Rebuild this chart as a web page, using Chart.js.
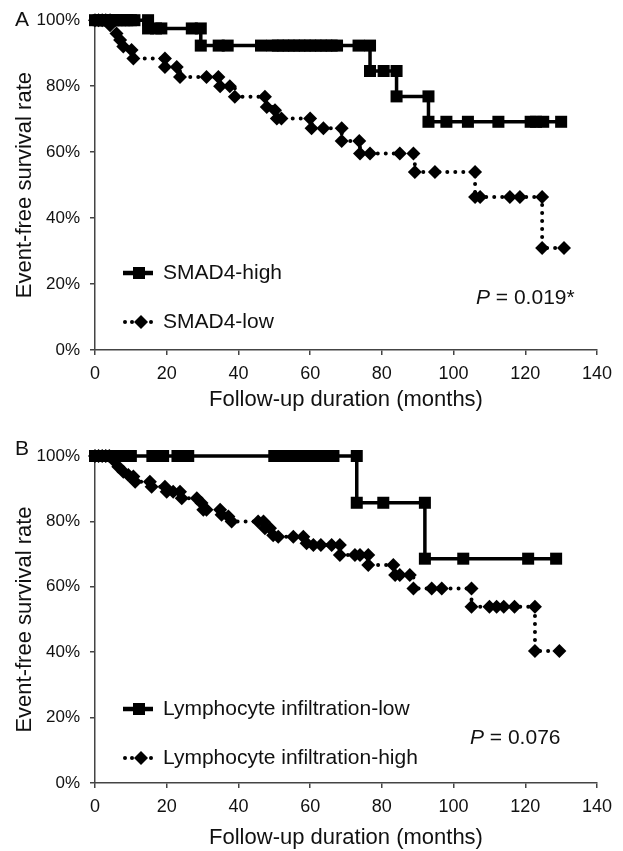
<!DOCTYPE html>
<html>
<head>
<meta charset="utf-8">
<script src="https://cdn.jsdelivr.net/npm/chart.js@4.4.1/dist/chart.umd.min.js"></script>
<style>
  html, body { margin: 0; padding: 0; background: #fff; }
  #wrap { position: relative; width: 623px; height: 851px; }
  canvas { position: absolute; left: 0; }
  #chartA { top: 0; }
  #chartB { top: 425px; }
</style>
</head>
<body>
<div id="wrap">
  <canvas id="chartA" width="623" height="425"></canvas>
  <canvas id="chartB" width="623" height="426"></canvas>
</div>
<script>
// axis ticks
const xTicks = [0, 20, 40, 60, 80, 100, 120, 140];
const yTicks = [0, 20, 40, 60, 80, 100];

// panel A - SMAD4
const smadHighX = [0, 1, 2, 3, 4, 5, 6, 7, 8, 9, 10, 11, 14.8, 14.8, 17, 18.5, 27, 29.5, 29.5, 34.5, 37, 46.3,
  49.5, 51, 52.5, 54, 55.5, 57, 58.5, 60, 61.5, 63, 64.5, 66, 67.5, 73.5, 76.7, 76.7, 80.5, 84.1, 84.1,
  93, 93, 98, 104, 112.5, 121.5, 123, 125, 130];
const smadHighY = [100, 100, 100, 100, 100, 100, 100, 100, 100, 100, 100, 100, 100, 97.5, 97.5, 97.5, 97.5, 97.5, 92.3, 92.3, 92.3, 92.3,
  92.3, 92.3, 92.3, 92.3, 92.3, 92.3, 92.3, 92.3, 92.3, 92.3, 92.3, 92.3, 92.3, 92.3, 92.3, 84.6, 84.6, 84.6, 76.9,
  76.9, 69.2, 69.2, 69.2, 69.2, 69.2, 69.2, 69.2, 69.2];

const smadLowX = [0, 1, 2, 3, 4.2, 4.2, 6, 7, 7.9, 10.2, 10.7, 19.5, 19.5, 22.8, 23.7, 31.1, 34.4, 34.9, 37.6, 39,
  47.4, 47.9, 50.2, 50.7, 52, 60, 60.4, 63.7, 68.8, 68.8, 73.7, 73.9, 76.7, 85, 88.8, 89.2, 94.8, 106, 106,
  107.4, 115.7, 118.5, 124.7, 124.7, 130.8];
const smadLowY = [100, 100, 100, 100, 100, 98.5, 96, 94, 92, 91, 88.4, 88.4, 85.8, 85.8, 82.8, 82.8, 82.8, 80, 80, 76.8,
  76.8, 73.7, 72.7, 70.2, 70.2, 70.2, 67.2, 67.2, 67.2, 63.4, 63.4, 59.6, 59.6, 59.6, 59.6, 54, 54, 54, 46.4,
  46.4, 46.4, 46.4, 46.4, 30.9, 30.9];

// panel B - lymphocyte infiltration
const lymLowX = [0, 1, 2, 3, 4, 5, 6, 7, 8, 9, 10, 16, 19, 23, 26, 50, 51.5, 53, 54.5, 56, 57.5, 59, 60.5, 62, 63.5,
  65, 66.5, 73, 73, 80.4, 92, 92, 102.7, 120.8, 128.6];
const lymLowY = [100, 100, 100, 100, 100, 100, 100, 100, 100, 100, 100, 100, 100, 100, 100, 100, 100, 100, 100, 100, 100, 100, 100, 100, 100,
  100, 100, 100, 85.7, 85.7, 85.7, 68.6, 68.6, 68.6, 68.6];

const lymHighX = [0, 1, 2, 3, 4, 5.1, 6.5, 7.9, 9.3, 10.7, 11.2, 15.3, 15.8, 19.5, 20, 21.8, 23.7, 24.2, 28.4, 29.7,
  30.2, 31.1, 34.9, 35.3, 37.2, 38.1, 45.5, 47, 47.4, 48.8, 49.7, 51.1, 55.3, 58.1, 59, 60.9, 63, 66, 68.3, 68.3,
  72.5, 73.9, 76.2, 76.2, 83.2, 83.7, 85, 87.8, 88.8, 93.9, 96.7, 105, 105, 110, 112, 114, 117, 122.7, 122.7, 129.5];
const lymHighY = [100, 100, 100, 100, 100, 98.8, 96.7, 95.2, 94.2, 93.7, 92.1, 92.1, 90.6, 90.6, 89.1, 89.1, 89.1, 87.1, 87.1, 85.6,
  83.6, 83.6, 83.6, 82, 81.5, 80, 80, 80, 77.9, 77.9, 75.8, 75.3, 75.3, 75.3, 73.3, 72.8, 72.8, 72.8, 72.8, 69.7,
  69.7, 69.7, 69.7, 66.7, 66.7, 63.6, 63.6, 63.6, 59.5, 59.5, 59.5, 59.5, 53.9, 53.9, 53.9, 53.9, 53.9, 53.9, 40.4, 40.4];

const FONT = '"Liberation Sans", Arial, sans-serif';
Chart.defaults.font.family = FONT;
Chart.defaults.color = "#111";

function toPoints(xs, ys) {
  return xs.map((x, i) => ({ x: x, y: ys[i] }));
}

function solidSet(label, xs, ys) {
  return {
    label: label,
    data: toPoints(xs, ys),
    showLine: true,
    stepped: true,
    borderColor: "#000",
    borderWidth: 3.5,
    pointStyle: "rect",
    pointRadius: 8.5,
    pointBackgroundColor: "#000",
    pointBorderWidth: 0,
    clip: false,
  };
}

function dottedSet(label, xs, ys) {
  return {
    label: label,
    data: toPoints(xs, ys),
    showLine: true,
    stepped: true,
    borderColor: "#000",
    borderWidth: 4,
    borderDash: [0, 8],
    borderCapStyle: "round",
    pointStyle: "rectRot",
    pointRadius: 7,
    pointBackgroundColor: "#000",
    pointBorderWidth: 0,
    clip: false,
  };
}

// letters, legend and p value
const annotPlugin = {
  id: "annot",
  afterDraw(chart, args, opts) {
    const ctx = chart.ctx;
    ctx.save();
    ctx.fillStyle = "#111";
    ctx.textBaseline = "middle";

    ctx.font = "21px " + FONT;
    ctx.textAlign = "center";
    ctx.fillText(opts.letter, 22, opts.letterY);

    ctx.textAlign = "left";
    ctx.font = "21px " + FONT;
    opts.legend.forEach((item) => {
      const y = item.y;
      if (item.solid) {
        ctx.strokeStyle = "#000";
        ctx.lineWidth = 4.5;
        ctx.beginPath();
        ctx.moveTo(123, y);
        ctx.lineTo(153, y);
        ctx.stroke();
        ctx.fillStyle = "#000";
        ctx.fillRect(133, y - 6, 12, 12);
      } else {
        ctx.fillStyle = "#000";
        [125, 132, 151].forEach((dx) => {
          ctx.beginPath();
          ctx.arc(dx, y, 2, 0, Math.PI * 2);
          ctx.fill();
        });
        ctx.beginPath();
        ctx.moveTo(141, y - 7);
        ctx.lineTo(148, y);
        ctx.lineTo(141, y + 7);
        ctx.lineTo(134, y);
        ctx.closePath();
        ctx.fill();
      }
      ctx.fillStyle = "#111";
      ctx.fillText(item.text, 163, y);
    });

    ctx.font = "italic 21px " + FONT;
    ctx.fillText("P", opts.pX, opts.pY);
    const w = ctx.measureText("P").width;
    ctx.font = "21px " + FONT;
    ctx.fillText(" = " + opts.pText, opts.pX + w, opts.pY);
    ctx.restore();
  },
};

function makeOptions(xHeight, xTitlePad, top, annot) {
  return {
    responsive: false,
    animation: false,
    layout: { padding: { left: 0, right: 26, top: top, bottom: 0 } },
    plugins: {
      legend: { display: false },
      tooltip: { enabled: false },
      annot: annot,
    },
    scales: {
      x: {
        type: "linear",
        min: 0,
        max: 140,
        afterBuildTicks: (s) => { s.ticks = xTicks.map((v) => ({ value: v })); },
        afterFit: (s) => { s.height = xHeight; },
        grid: { drawOnChartArea: false, drawTicks: true, tickLength: 5, color: "#444", lineWidth: 1.5 },
        border: { color: "#444", width: 1.5 },
        ticks: { font: { size: 18 }, color: "#111", padding: 8, maxRotation: 0 },
        title: {
          display: true,
          text: "Follow-up duration (months)",
          font: { size: 22 },
          color: "#111",
          padding: { top: 0, bottom: xTitlePad },
        },
      },
      y: {
        type: "linear",
        min: 0,
        max: 100,
        afterBuildTicks: (s) => { s.ticks = yTicks.map((v) => ({ value: v })); },
        afterFit: (s) => { s.width = 95; },
        grid: { drawOnChartArea: false, drawTicks: true, tickLength: 5, color: "#444", lineWidth: 1.5 },
        border: { color: "#444", width: 1.5 },
        ticks: { font: { size: 17 }, color: "#111", padding: 10, callback: (v) => v + "%" },
        title: {
          display: true,
          text: "Event-free survival rate",
          font: { size: 22 },
          color: "#111",
          padding: { top: 12, bottom: 0 },
        },
      },
    },
  };
}

new Chart(document.getElementById("chartA"), {
  type: "scatter",
  data: {
    datasets: [
      solidSet("SMAD4-high", smadHighX, smadHighY),
      dottedSet("SMAD4-low", smadLowX, smadLowY),
    ],
  },
  options: makeOptions(75, 12, 20, {
    letter: "A",
    letterY: 20,
    legend: [
      { text: "SMAD4-high", y: 273, solid: true },
      { text: "SMAD4-low", y: 322, solid: false },
    ],
    pText: "0.019*",
    pX: 476,
    pY: 298,
  }),
  plugins: [annotPlugin],
});

new Chart(document.getElementById("chartB"), {
  type: "scatter",
  data: {
    datasets: [
      solidSet("Lymphocyte infiltration-low", lymLowX, lymLowY),
      dottedSet("Lymphocyte infiltration-high", lymHighX, lymHighY),
    ],
  },
  options: makeOptions(68, 0, 31, {
    letter: "B",
    letterY: 24,
    legend: [
      { text: "Lymphocyte infiltration-low", y: 284, solid: true },
      { text: "Lymphocyte infiltration-high", y: 333, solid: false },
    ],
    pText: "0.076",
    pX: 470,
    pY: 313,
  }),
  plugins: [annotPlugin],
});
</script>
</body>
</html>
